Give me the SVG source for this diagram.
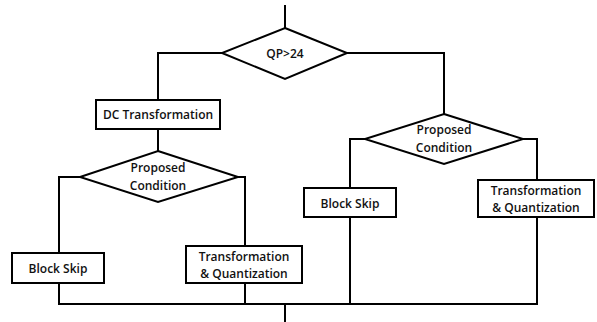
<svg xmlns="http://www.w3.org/2000/svg" width="597" height="322" viewBox="0 0 597 322">
<style>
.s{fill:#fff;stroke:#000;stroke-width:2}
.c{fill:none;stroke:#000;stroke-width:2}
text{font-family:"Open Sans","Noto Sans",sans-serif;font-size:12px;font-weight:600;fill:#111;text-anchor:middle}
</style>
<rect width="597" height="322" fill="#fff"/>
<g id="connectors">
<path class="c" d="M285 5V28"/>
<path class="c" d="M222 53H158V100"/>
<path class="c" d="M158 129V151"/>
<path class="c" d="M80 177H59V253"/>
<path class="c" d="M238 177H245V246"/>
<path class="c" d="M347 53H444V114"/>
<path class="c" d="M365 139H350V188"/>
<path class="c" d="M523 139H537V180"/>
<path class="c" d="M59 283V304H537V217"/>
<path class="c" d="M245 283V304"/>
<path class="c" d="M350 217V304"/>
<path class="c" d="M285 304V322"/>
</g>
<g id="qp">
<polygon class="s" points="285,28 347,53 285,79 222,53"/>
<text x="285" y="58">QP&gt;24</text>
</g>
<g id="dc">
<rect class="s" x="96" y="100" width="124" height="29"/>
<text x="158" y="119">DC Transformation</text>
</g>
<g id="cond-left">
<polygon class="s" points="158,151 238,177 158,202 80,177"/>
<text x="158" y="172">Proposed</text>
<text x="158" y="190">Condition</text>
</g>
<g id="skip-left">
<rect class="s" x="12" y="253" width="92" height="30"/>
<text x="58" y="273">Block Skip</text>
</g>
<g id="tq-left">
<rect class="s" x="186" y="246" width="116" height="37"/>
<text x="244" y="261">Transformation</text>
<text x="244" y="278">&amp; Quantization</text>
</g>
<g id="cond-right">
<polygon class="s" points="444,114 523,139 444,164 365,139"/>
<text x="444" y="134">Proposed</text>
<text x="444" y="152">Condition</text>
</g>
<g id="skip-right">
<rect class="s" x="304" y="188" width="92" height="29"/>
<text x="350" y="208">Block Skip</text>
</g>
<g id="tq-right">
<rect class="s" x="478" y="180" width="116" height="37"/>
<text x="536" y="195">Transformation</text>
<text x="536" y="212">&amp; Quantization</text>
</g>
</svg>
